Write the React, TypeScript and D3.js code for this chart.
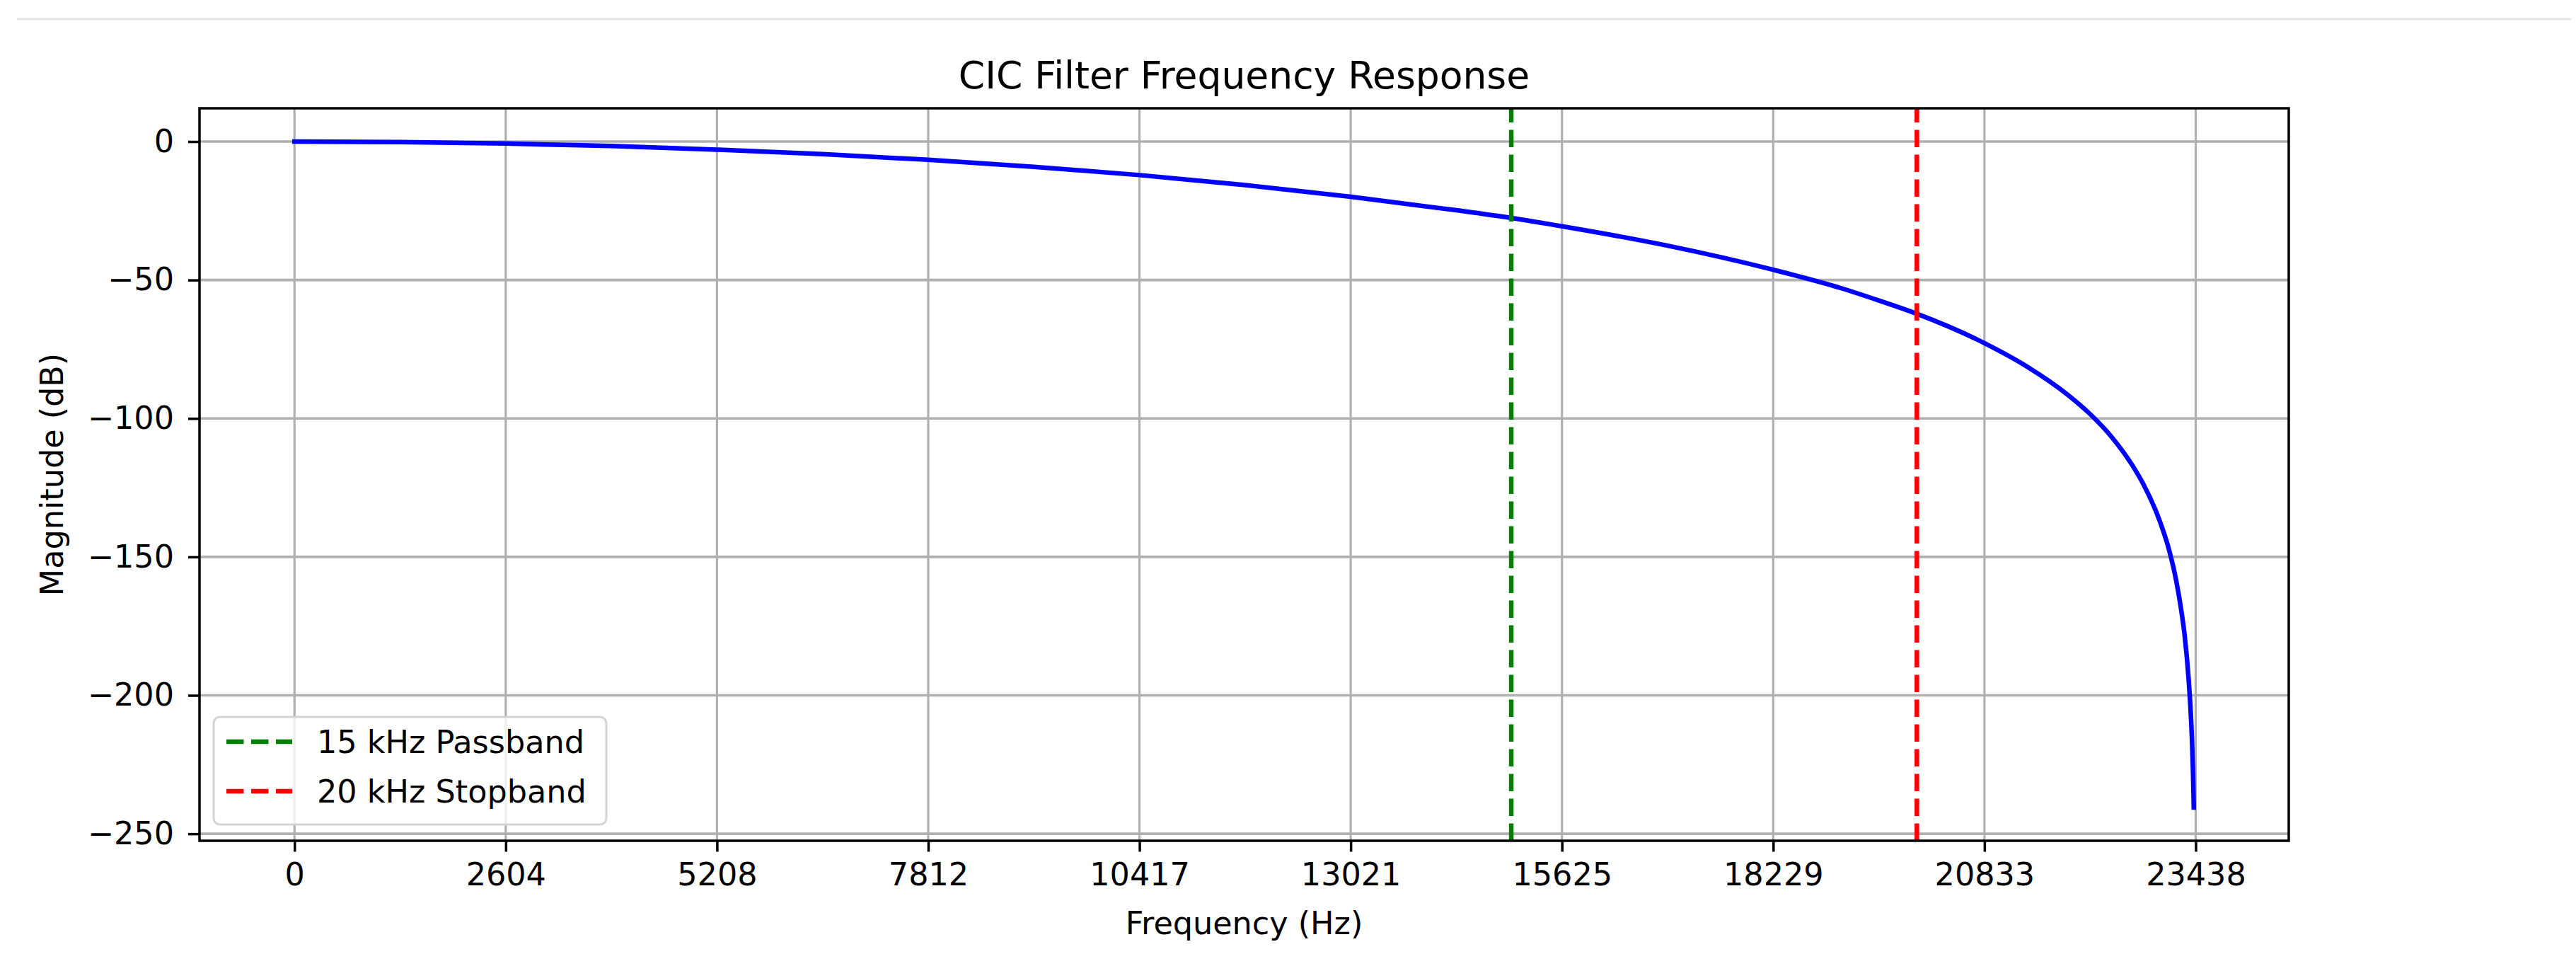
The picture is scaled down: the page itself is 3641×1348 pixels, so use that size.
import { useEffect, useRef } from 'react';
import * as d3 from 'd3';

// Frequency response (Hz, dB)
const freqHz = [
  0, 1302, 2604, 3906, 5208, 6510, 7812, 9115, 10417, 11719, 13021, 14323,
  15000, 15625, 16927, 18229, 19061, 19531, 20000, 20833, 21354, 21875, 22135,
  22396, 22656, 22786, 23000, 23100, 23200, 23250, 23300, 23350, 23370, 23390,
  23405, 23414,
];
const magnitudeDb = [
  0, -0.2, -0.7, -1.6, -2.9, -4.5, -6.6, -9.1, -12.1, -15.7, -19.9, -24.8,
  -27.6, -30.6, -37.6, -46.3, -52.9, -57.4, -62.2, -72.8, -81.2, -91.8, -98.4,
  -106.5, -116.9, -123.4, -137.5, -146.5, -159.0, -167.5, -178.0, -194.0, -203.0,
  -215.0, -228.5, -240.5,
];

// Marker lines
const markerFreqs = [15000, 20000];
const markerLabels = ['15 kHz Passband', '20 kHz Stopband'];
const markerColors = ['#008000', '#ff0000'];

// Tick labels
const xTickValues = [0, 2604.17, 5208.33, 7812.5, 10416.67, 13020.83, 15625, 18229.17, 20833.33, 23437.5];
const xTickLabels = ['0', '2604', '5208', '7812', '10417', '13021', '15625', '18229', '20833', '23438'];
const yTickValues = [0, -50, -100, -150, -200, -250];

const FONT = "'DejaVu Sans', sans-serif";

export default function App() {
  const svgRef = useRef<SVGSVGElement>(null);
  const width = 3641;
  const height = 1348;

  useEffect(() => {
    const svg = d3.select(svgRef.current);
    svg.selectAll('*').remove();

    const margin = { top: 153, right: 406, bottom: 160, left: 282 };
    const innerWidth = width - margin.left - margin.right;
    const innerHeight = height - margin.top - margin.bottom;

    const data = freqHz.map((f, i) => ({ f, db: magnitudeDb[i] }));

    // matplotlib style 5% padding on both axes
    const [xMin, xMax] = d3.extent(freqHz) as [number, number];
    const [yMin, yMax] = d3.extent(magnitudeDb) as [number, number];
    const xPad = (xMax - xMin) * 0.05;
    const yPad = (yMax - yMin) * 0.05;

    const xScale = d3.scaleLinear()
      .domain([xMin - xPad, xMax + xPad])
      .range([0, innerWidth]);

    const yScale = d3.scaleLinear()
      .domain([yMin - yPad, yMax + yPad])
      .range([innerHeight, 0]);

    // cell separator line at the top
    svg.append('line')
      .attr('x1', 24).attr('x2', 3634)
      .attr('y1', 27).attr('y2', 27)
      .attr('stroke', '#e6e6e6')
      .attr('stroke-width', 3);

    const g = svg.append('g')
      .attr('transform', `translate(${margin.left},${margin.top})`);

    g.append('defs').append('clipPath')
      .attr('id', 'plot-clip')
      .append('rect')
      .attr('width', innerWidth)
      .attr('height', innerHeight);

    // grid
    g.selectAll('.grid-x')
      .data(xTickValues)
      .enter().append('line')
      .attr('x1', d => xScale(d)).attr('x2', d => xScale(d))
      .attr('y1', 0).attr('y2', innerHeight)
      .attr('stroke', '#b0b0b0')
      .attr('stroke-width', 3.2);

    g.selectAll('.grid-y')
      .data(yTickValues)
      .enter().append('line')
      .attr('x1', 0).attr('x2', innerWidth)
      .attr('y1', d => yScale(d)).attr('y2', d => yScale(d))
      .attr('stroke', '#b0b0b0')
      .attr('stroke-width', 3.6);

    // response curve
    const line = d3.line<{ f: number; db: number }>()
      .x(d => xScale(d.f))
      .y(d => yScale(d.db))
      .curve(d3.curveMonotoneX);

    g.append('path')
      .datum(data)
      .attr('clip-path', 'url(#plot-clip)')
      .attr('fill', 'none')
      .attr('stroke', '#0000ff')
      .attr('stroke-width', 6.5)
      .attr('stroke-linecap', 'square')
      .attr('stroke-linejoin', 'round')
      .attr('d', line);

    // passband / stopband markers
    g.selectAll('.marker')
      .data(markerFreqs)
      .enter().append('line')
      .attr('x1', d => xScale(d)).attr('x2', d => xScale(d))
      .attr('y1', innerHeight).attr('y2', 0)
      .attr('stroke', (d, i) => markerColors[i])
      .attr('stroke-width', 6.5)
      .attr('stroke-dasharray', '24.5,10.5');

    // spines
    g.append('rect')
      .attr('width', innerWidth)
      .attr('height', innerHeight)
      .attr('fill', 'none')
      .attr('stroke', '#000')
      .attr('stroke-width', 3.5);

    // x axis
    const xAxis = g.append('g')
      .attr('transform', `translate(0,${innerHeight})`)
      .call(d3.axisBottom(xScale)
        .tickValues(xTickValues)
        .tickFormat((d, i) => xTickLabels[i])
        .tickSize(15.5)
        .tickPadding(16)
      );
    xAxis.select('.domain').remove();
    xAxis.selectAll('line').attr('stroke', '#000').attr('stroke-width', 3.5);
    xAxis.selectAll('text')
      .style('font-family', FONT)
      .style('font-size', '44.5px')
      .style('fill', '#000');

    // y axis
    const yAxis = g.append('g')
      .call(d3.axisLeft(yScale)
        .tickValues(yTickValues)
        .tickFormat(d => d3.format('d')(d as number).replace('-', '\u2212'))
        .tickSize(16)
        .tickPadding(20)
      );
    yAxis.select('.domain').remove();
    yAxis.selectAll('line').attr('stroke', '#000').attr('stroke-width', 3.5);
    yAxis.selectAll('text')
      .style('font-family', FONT)
      .style('font-size', '44.5px')
      .style('fill', '#000');

    // title and axis labels
    svg.append('text')
      .attr('x', margin.left + innerWidth / 2)
      .attr('y', 125)
      .attr('text-anchor', 'middle')
      .style('font-family', FONT)
      .style('font-size', '53.5px')
      .style('fill', '#000')
      .text('CIC Filter Frequency Response');

    svg.append('text')
      .attr('x', margin.left + innerWidth / 2)
      .attr('y', 1320)
      .attr('text-anchor', 'middle')
      .style('font-family', FONT)
      .style('font-size', '44.5px')
      .style('fill', '#000')
      .text('Frequency (Hz)');

    svg.append('text')
      .attr('transform', `translate(89,${margin.top + innerHeight / 2}) rotate(-90)`)
      .attr('text-anchor', 'middle')
      .style('font-family', FONT)
      .style('font-size', '44.5px')
      .style('fill', '#000')
      .text('Magnitude (dB)');

    // legend
    const legend = svg.append('g').attr('transform', 'translate(302,1013)');
    legend.append('rect')
      .attr('width', 555)
      .attr('height', 152)
      .attr('rx', 9)
      .attr('fill', '#fff')
      .attr('fill-opacity', 0.8)
      .attr('stroke', '#d4d4d4')
      .attr('stroke-width', 3);

    const rows = legend.selectAll('.legend-row')
      .data(markerLabels)
      .enter().append('g')
      .attr('transform', (d, i) => `translate(0,${35 + i * 70})`);

    rows.append('line')
      .attr('x1', 18).attr('x2', 111)
      .attr('stroke', (d, i) => markerColors[i])
      .attr('stroke-width', 6.5)
      .attr('stroke-dasharray', '24.5,10.5');

    rows.append('text')
      .attr('x', 146)
      .attr('y', 16)
      .style('font-family', FONT)
      .style('font-size', '44.5px')
      .style('fill', '#000')
      .text(d => d);
  }, []);

  return (
    <div style={{ position: 'absolute', left: 0, top: 0, background: '#fff' }}>
      <svg ref={svgRef} width={width} height={height} style={{ display: 'block' }} />
    </div>
  );
}
